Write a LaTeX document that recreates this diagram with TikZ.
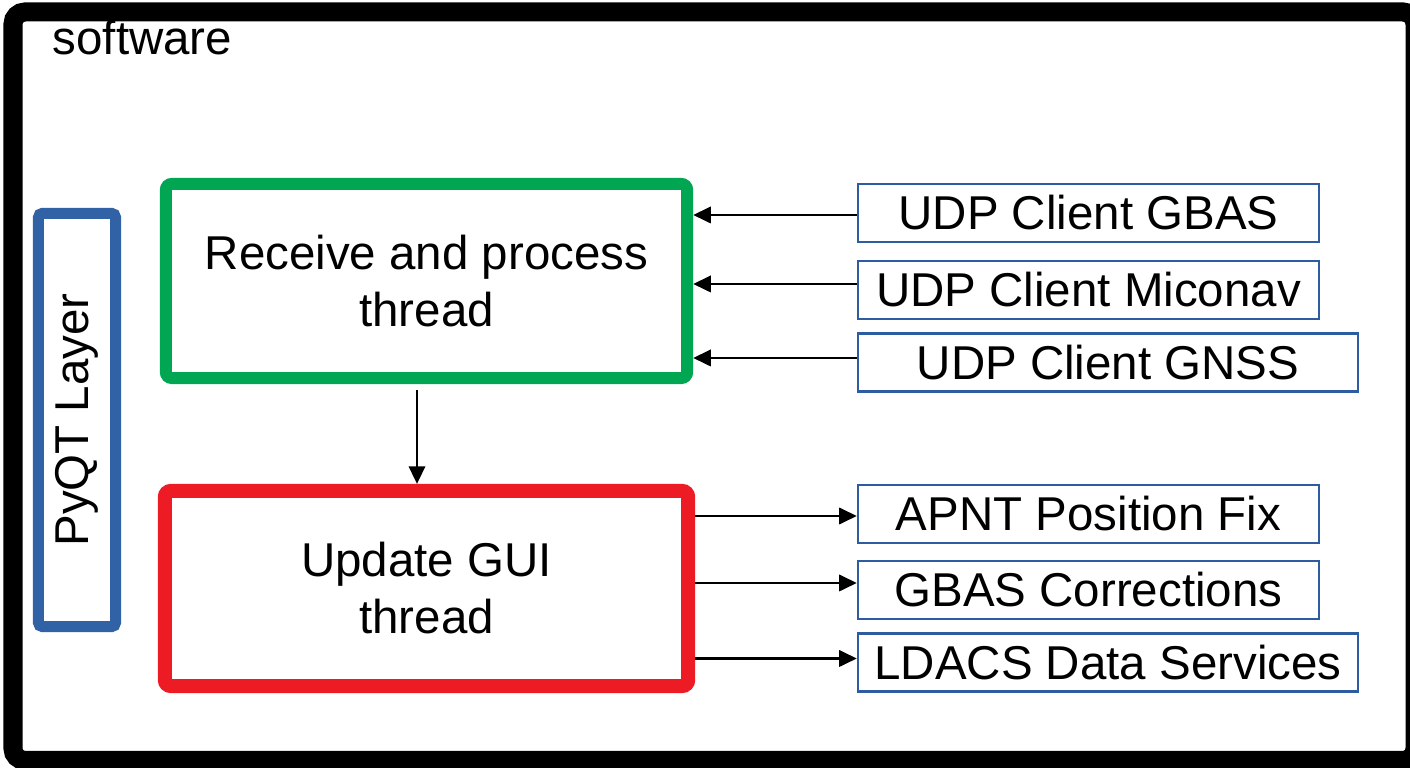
\documentclass[tikz,border=0pt]{standalone}
\usepackage{fontspec}
\setmainfont{Liberation Sans}
\usetikzlibrary{arrows.meta,positioning}

\definecolor{threadgreen}{RGB}{0,166,81}
\definecolor{threadred}{RGB}{237,28,36}
\definecolor{layerblue}{RGB}{50,98,166}
\definecolor{clientblue}{RGB}{46,92,160}

\begin{document}
\begin{tikzpicture}[
  x=0.01cm, y=-0.01cm,
  every node/.style={font=\fontsize{13.5}{16.2}\selectfont},
  thread/.style={draw, rounded corners=0.06cm, align=center, inner sep=0pt},
  client/.style={draw=clientblue, line width=0.6pt, minimum height=0.58cm,
                 inner sep=0pt, align=center},
  arr/.style={-{Triangle[length=5pt,width=4.6pt]}, line width=0.8pt}
]
\useasboundingbox (0,0) rectangle (1410,768);

% frame of the whole software (cut at right and bottom)
\draw[line width=0.19cm, rounded corners=0.12cm] (13,12) rectangle (1415,760.5);
\node[anchor=base west, inner sep=0pt] (sw) at (52,55) {software};

\node[draw=layerblue, line width=0.11cm, rounded corners=0.04cm, minimum width=0.77cm,
      minimum height=4.13cm, inner sep=0pt] (pyqt) at (77,420) {};
\node[rotate=90] (pyqtlbl) at (pyqt.center) {PyQT Layer};

\node[thread, draw=threadgreen, line width=0.12cm, minimum width=5.21cm,
      minimum height=1.94cm] (recv) at (426.5,281) {Receive and process\\thread};
\node[thread, draw=threadred, line width=0.14cm, minimum width=5.23cm,
      minimum height=1.95cm] (gui) at (426.5,588.5) {Update GUI\\thread};

% clients feeding the receive thread
\node[client, minimum width=4.61cm] (gbas)    at (1088.5,213)   {UDP Client GBAS};
\node[client, minimum width=4.61cm] (miconav) at (1088.5,290)   {UDP Client Miconav};
\node[client, minimum width=5.00cm] (gnss)    at (1108,362.5)   {UDP Client GNSS};

% outputs of the GUI thread
\node[client, minimum width=4.61cm] (apnt)  at (1088.5,514)   {APNT Position Fix};
\node[client, minimum width=4.61cm] (corr)  at (1088.5,590)   {GBAS Corrections};
\node[client, minimum width=5.00cm] (ldacs) at (1108,662.5)   {LDACS Data Services};

\draw[arr] ([yshift=-0.02cm]gbas.west)    -- ([yshift=-0.02cm]recv.east |- gbas.west);
\draw[arr] ([yshift=0.06cm]miconav.west)  -- ([yshift=0.06cm]recv.east |- miconav.west);
\draw[arr] ([yshift=0.045cm]gnss.west)    -- ([yshift=0.045cm]recv.east |- gnss.west);

\draw[arr, shorten <=1.7pt] ([xshift=-0.095cm]recv.south) -- ([xshift=-0.095cm]recv.south |- gui.north);

\draw[arr] ([yshift=-0.02cm]gui.east |- apnt.west)  -- ([yshift=-0.02cm]apnt.west);
\draw[arr] ([yshift=0.07cm]gui.east |- corr.west)   -- ([yshift=0.07cm]corr.west);
\draw[arr] ([yshift=0.04cm]gui.east |- ldacs.west)  -- ([yshift=0.04cm]ldacs.west);

\end{tikzpicture}
\end{document}
